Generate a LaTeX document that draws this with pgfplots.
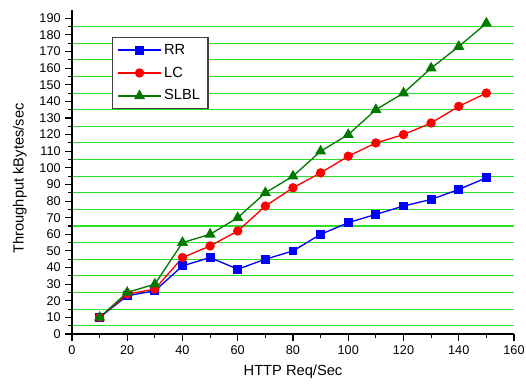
\documentclass[border=0pt]{standalone}
\usepackage{pgfplots}
\pgfplotsset{compat=1.18}
\usepackage{fontspec}
\setmainfont{Liberation Sans}
\definecolor{gridgreen}{RGB}{40,225,40}
\definecolor{sgreen}{RGB}{0,120,0}
\begin{document}
\begin{tikzpicture}
\begin{axis}[
  scale only axis,
  width=331.5pt, height=243pt,
  xmin=0, xmax=160, ymin=0, ymax=195,
  axis x line=bottom, axis y line=left,
  axis line style={-, line width=1.1pt},
  xtick={0,20,...,160}, ytick={0,10,...,190},
  minor x tick num=1, minor y tick num=1,
  tick align=outside,
  major tick length=5pt, minor tick length=3pt,
  every tick/.style={black, line width=0.8pt},
  yminorgrids=true,
  minor grid style={gridgreen, line width=0.8pt},
  tick label style={font=\fontsize{9.5}{11}\selectfont, /pgf/number format/assume math mode=true},
  label style={font=\fontsize{11}{13}\selectfont},
  xlabel={HTTP Req/Sec},
  ylabel={Throughput kBytes/sec},
  xlabel style={at={(axis description cs:0.5,-0.117)}, anchor=center},
  ylabel style={at={(axis description cs:-0.118,0.48)}, anchor=center},
  legend style={at={(0.09,0.917)}, anchor=north west, draw=black!75, line width=0.8pt,
    font=\fontsize{11}{13}\selectfont, row sep=4pt, inner xsep=4pt, inner ysep=3pt},
  legend cell align=left,
  legend image code/.code={\draw[line width=1pt, mark repeat=2,mark phase=2] plot coordinates {(0cm,0cm)(0.56cm,0cm)(1.12cm,0cm)};},
]
\addplot[blue, line width=1pt, mark=square*, mark size=2.8pt, mark options={solid}] coordinates {
(10,10)(20,23)(30,26)(40,41)(50,46)(60,39)(70,45)(80,50)(90,60)(100,67)(110,72)(120,77)(130,81)(140,87)(150,94)};
\addlegendentry{RR}
\addplot[red, line width=1pt, mark=*, mark size=3pt] coordinates {
(10,10)(20,24)(30,27)(40,46)(50,53)(60,62)(70,77)(80,88)(90,97)(100,107)(110,115)(120,120)(130,127)(140,137)(150,145)};
\addlegendentry{LC}
\addplot[sgreen, line width=1pt, mark=triangle*, mark size=3.8pt] coordinates {
(10,10)(20,25)(30,30)(40,55)(50,60)(60,70)(70,85)(80,95)(90,110)(100,120)(110,135)(120,145)(130,160)(140,173)(150,187)};
\addlegendentry{SLBL}
\end{axis}
\pgfresetboundingbox
\useasboundingbox ([xshift=-54pt,yshift=-36.75pt]current axis.south west) rectangle ([xshift=9pt,yshift=7.5pt]current axis.north east);
\end{tikzpicture}
\end{document}
